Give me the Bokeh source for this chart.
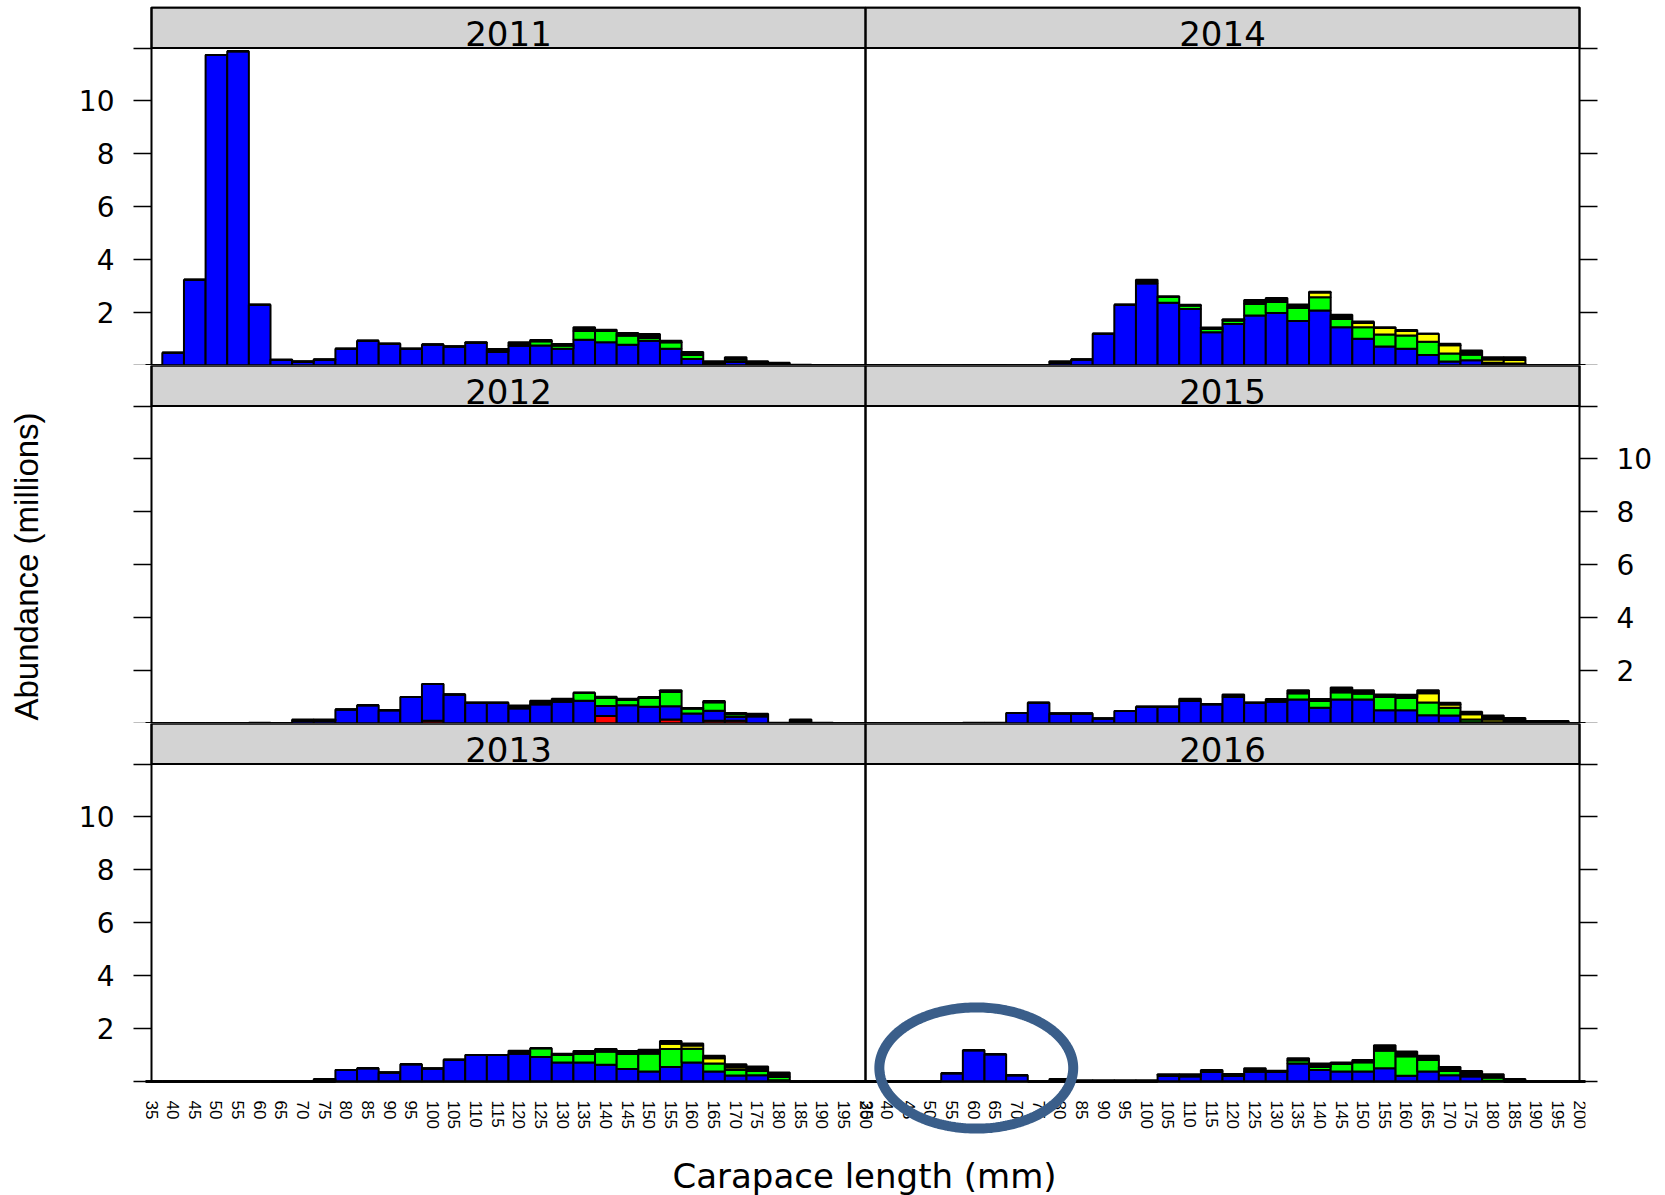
import numpy as np
from bokeh.plotting import figure
from bokeh.models import (ColumnDataSource, LinearAxis, FixedTicker,
                          BoxAnnotation, Label, PolyAnnotation)
from bokeh.layouts import row, column
from bokeh.embed import file_html
from bokeh.resources import INLINE

# Carapace length classes (mm)
LENGTH_BINS = [35, 40, 45, 50, 55, 60, 65, 70, 75, 80,
               85, 90, 95, 100, 105, 110, 115, 120, 125, 130,
               135, 140, 145, 150, 155, 160, 165, 170, 175, 180,
               185, 190, 195, 200]

Y_TICKS = [0, 2, 4, 6, 8, 10, 12]
Y_TICK_LABELS = ["", "2", "4", "6", "8", "10", ""]

# Abundance (millions) by length class, stacked: red, blue, green, yellow, black
RED_2011 = [0, 0, 0, 0, 0, 0, 0, 0, 0, 0,
            0, 0, 0, 0, 0, 0, 0, 0, 0, 0,
            0, 0, 0, 0, 0, 0, 0, 0, 0, 0,
            0, 0, 0, 0]
BLUE_2011 = [0, 0.48, 3.24, 11.74, 11.88, 2.30, 0.21, 0.14, 0.22, 0.63,
             0.94, 0.82, 0.63, 0.79, 0.72, 0.86, 0.52, 0.76, 0.76, 0.63,
             0.97, 0.88, 0.78, 0.94, 0.63, 0.25, 0.03, 0.13, 0.03, 0,
             0, 0, 0, 0]
GREEN_2011 = [0, 0, 0, 0, 0, 0, 0, 0, 0, 0,
              0, 0, 0, 0, 0, 0, 0, 0, 0.16, 0.13,
              0.33, 0.42, 0.35, 0.10, 0.25, 0.16, 0, 0.10, 0, 0,
              0, 0, 0, 0]
YELLOW_2011 = [0, 0, 0, 0, 0, 0, 0, 0, 0, 0,
               0, 0, 0, 0, 0, 0, 0, 0, 0, 0,
               0, 0, 0, 0, 0, 0, 0, 0, 0, 0,
               0, 0, 0, 0]
BLACK_2011 = [0, 0, 0, 0, 0, 0, 0.02, 0.02, 0.02, 0,
              0, 0, 0, 0, 0, 0.02, 0.10, 0.12, 0.04, 0.05,
              0.15, 0.05, 0.10, 0.15, 0.06, 0.10, 0.13, 0.08, 0.13, 0.10,
              0.03, 0.02, 0, 0]

RED_2012 = [0, 0, 0, 0, 0, 0, 0, 0, 0, 0,
            0, 0, 0, 0.10, 0, 0, 0, 0, 0, 0,
            0, 0.28, 0, 0, 0.15, 0, 0.10, 0.10, 0, 0,
            0, 0, 0, 0]
BLUE_2012 = [0, 0, 0, 0, 0, 0, 0, 0.10, 0.10, 0.53,
             0.69, 0.50, 1.00, 1.39, 1.10, 0.78, 0.78, 0.58, 0.73, 0.83,
             0.86, 0.38, 0.69, 0.63, 0.50, 0.38, 0.38, 0.15, 0.27, 0,
             0, 0, 0, 0]
GREEN_2012 = [0, 0, 0, 0, 0, 0, 0, 0, 0, 0,
              0, 0, 0, 0, 0, 0, 0, 0, 0, 0,
              0.30, 0.31, 0.20, 0.34, 0.55, 0.19, 0.32, 0.10, 0, 0,
              0, 0, 0, 0]
YELLOW_2012 = [0, 0, 0, 0, 0, 0, 0, 0, 0, 0,
               0, 0, 0, 0, 0, 0, 0, 0, 0, 0,
               0, 0, 0, 0, 0, 0, 0, 0, 0, 0,
               0, 0, 0, 0]
BLACK_2012 = [0, 0, 0, 0, 0, 0.03, 0.02, 0.05, 0.05, 0,
              0, 0, 0, 0, 0, 0, 0, 0.10, 0.13, 0.11,
              0, 0.04, 0.05, 0.03, 0.06, 0.02, 0.05, 0.05, 0.10, 0.03,
              0.15, 0.03, 0, 0]

RED_2013 = [0, 0, 0, 0, 0, 0, 0, 0, 0, 0,
            0, 0, 0, 0, 0, 0, 0, 0, 0, 0,
            0, 0, 0, 0, 0, 0, 0, 0, 0, 0,
            0, 0, 0, 0]
BLUE_2013 = [0, 0, 0, 0, 0, 0, 0, 0, 0, 0.43,
             0.50, 0.34, 0.65, 0.49, 0.82, 1.00, 1.00, 1.06, 0.93, 0.72,
             0.72, 0.63, 0.47, 0.38, 0.55, 0.72, 0.38, 0.23, 0.24, 0.05,
             0, 0, 0, 0]
GREEN_2013 = [0, 0, 0, 0, 0, 0, 0, 0, 0, 0,
              0, 0, 0, 0, 0, 0, 0, 0, 0.33, 0.28,
              0.33, 0.50, 0.58, 0.68, 0.68, 0.52, 0.30, 0.20, 0.17, 0.12,
              0, 0, 0, 0]
YELLOW_2013 = [0, 0, 0, 0, 0, 0, 0, 0, 0, 0,
               0, 0, 0, 0, 0, 0, 0, 0, 0, 0,
               0, 0, 0, 0, 0.20, 0.12, 0.20, 0.10, 0, 0,
               0, 0, 0, 0]
BLACK_2013 = [0, 0, 0, 0, 0, 0, 0, 0, 0.09, 0,
              0, 0, 0, 0, 0, 0, 0, 0.10, 0, 0.05,
              0.10, 0.10, 0.10, 0.14, 0.10, 0.08, 0.09, 0.12, 0.16, 0.17,
              0, 0, 0, 0]

RED_2014 = [0, 0, 0, 0, 0, 0, 0, 0, 0, 0,
            0, 0, 0, 0, 0, 0, 0, 0, 0, 0,
            0, 0, 0, 0, 0, 0, 0, 0, 0, 0,
            0, 0, 0, 0]
BLUE_2014 = [0, 0, 0, 0, 0, 0, 0, 0, 0, 0.10,
             0.23, 1.20, 2.30, 3.11, 2.37, 2.14, 1.26, 1.57, 1.89, 1.98,
             1.68, 2.08, 1.45, 1.01, 0.72, 0.63, 0.40, 0.15, 0.20, 0.05,
             0.03, 0, 0, 0]
GREEN_2014 = [0, 0, 0, 0, 0, 0, 0, 0, 0, 0,
              0, 0, 0, 0, 0.22, 0.13, 0.13, 0.13, 0.44, 0.42,
              0.50, 0.50, 0.31, 0.44, 0.45, 0.50, 0.50, 0.30, 0.22, 0.05,
              0.05, 0, 0, 0]
YELLOW_2014 = [0, 0, 0, 0, 0, 0, 0, 0, 0, 0,
               0, 0, 0, 0, 0, 0, 0, 0, 0, 0,
               0, 0.18, 0, 0.16, 0.25, 0.17, 0.30, 0.32, 0, 0.13,
               0.13, 0, 0, 0]
BLACK_2014 = [0, 0.02, 0, 0.02, 0, 0.02, 0.02, 0, 0, 0.06,
              0, 0, 0, 0.13, 0.03, 0.03, 0.05, 0.05, 0.15, 0.15,
              0.13, 0.03, 0.16, 0.05, 0.03, 0.04, 0, 0.05, 0.15, 0.08,
              0.10, 0, 0, 0]

RED_2015 = [0, 0, 0, 0, 0, 0, 0, 0, 0, 0,
            0, 0, 0, 0, 0, 0, 0, 0, 0, 0,
            0, 0, 0, 0, 0, 0, 0, 0, 0, 0,
            0, 0, 0, 0]
BLUE_2015 = [0, 0, 0, 0, 0, 0, 0, 0.40, 0.78, 0.38,
             0.38, 0.19, 0.47, 0.63, 0.63, 0.85, 0.73, 1.00, 0.78, 0.83,
             0.91, 0.60, 0.91, 0.91, 0.50, 0.50, 0.31, 0.30, 0.05, 0.02,
             0, 0, 0, 0]
GREEN_2015 = [0, 0, 0, 0, 0, 0, 0, 0, 0, 0,
              0, 0, 0, 0, 0, 0, 0, 0, 0, 0,
              0.23, 0.25, 0.27, 0.22, 0.50, 0.47, 0.48, 0.30, 0.10, 0.03,
              0, 0, 0, 0]
YELLOW_2015 = [0, 0, 0, 0, 0, 0, 0, 0, 0, 0,
               0, 0, 0, 0, 0, 0, 0, 0, 0, 0,
               0, 0, 0, 0, 0, 0, 0.35, 0.12, 0.20, 0.10,
               0, 0, 0, 0]
BLACK_2015 = [0, 0, 0, 0, 0, 0.03, 0.03, 0, 0, 0,
              0, 0, 0, 0, 0, 0.09, 0, 0.10, 0, 0.10,
              0.12, 0.08, 0.18, 0.13, 0.10, 0.12, 0.12, 0.06, 0.09, 0.15,
              0.21, 0.09, 0.09, 0]

RED_2016 = [0, 0, 0, 0, 0, 0, 0, 0, 0, 0,
            0, 0, 0, 0, 0, 0, 0, 0, 0, 0,
            0, 0, 0, 0, 0, 0, 0, 0, 0, 0,
            0, 0, 0, 0]
BLUE_2016 = [0, 0, 0, 0, 0.31, 1.18, 1.03, 0.24, 0, 0,
             0, 0, 0, 0, 0.22, 0.20, 0.37, 0.22, 0.38, 0.37,
             0.68, 0.43, 0.38, 0.38, 0.50, 0.22, 0.38, 0.24, 0.20, 0.03,
             0, 0, 0, 0]
GREEN_2016 = [0, 0, 0, 0, 0, 0, 0, 0, 0, 0,
              0, 0, 0, 0, 0, 0, 0, 0, 0, 0,
              0.12, 0.12, 0.28, 0.35, 0.67, 0.73, 0.43, 0.17, 0, 0.12,
              0, 0, 0, 0]
YELLOW_2016 = [0, 0, 0, 0, 0, 0, 0, 0, 0, 0,
               0, 0, 0, 0, 0, 0, 0, 0, 0, 0,
               0, 0, 0, 0, 0, 0, 0, 0, 0, 0,
               0, 0, 0, 0]
BLACK_2016 = [0, 0, 0, 0, 0, 0, 0, 0, 0, 0.09,
              0.05, 0.05, 0.05, 0.05, 0.05, 0.07, 0.06, 0.06, 0.12, 0.04,
              0.08, 0.13, 0.06, 0.08, 0.20, 0.18, 0.16, 0.14, 0.20, 0.12,
              0.09, 0, 0, 0]

YEARS = {
    "2011": (RED_2011, BLUE_2011, GREEN_2011, YELLOW_2011, BLACK_2011),
    "2012": (RED_2012, BLUE_2012, GREEN_2012, YELLOW_2012, BLACK_2012),
    "2013": (RED_2013, BLUE_2013, GREEN_2013, YELLOW_2013, BLACK_2013),
    "2014": (RED_2014, BLUE_2014, GREEN_2014, YELLOW_2014, BLACK_2014),
    "2015": (RED_2015, BLUE_2015, GREEN_2015, YELLOW_2015, BLACK_2015),
    "2016": (RED_2016, BLUE_2016, GREEN_2016, YELLOW_2016, BLACK_2016),
}
# panel rows: (left column year, right column year)
PANEL_ROWS = [("2011", "2014"), ("2012", "2015"), ("2013", "2016")]

STACK_KEYS = ["red", "blue", "green", "yellow", "black"]
STACK_COLORS = ["#ff0000", "#0000ff", "#00ff00", "#ffff00", "#000000"]

# ---- geometry ----
X_MIN, X_MAX = LENGTH_BINS[0], LENGTH_BINS[-1]
SPAN = X_MAX - X_MIN                 # one panel width in mm
OFFSET = SPAN                        # right-hand column is drawn shifted by one panel
PANEL_W = 714                        # pixels per panel
PX_X = PANEL_W / SPAN
PAD_PX = 6                           # frame padding so borders and edge labels are not clipped
PAD = PAD_PX / PX_X
FRAME_W = 2 * PANEL_W + 2 * PAD_PX

STRIP_PLUS_PANEL = 358
PANEL_H = 317.5
Y_MAX = 12
PX_Y = PANEL_H / Y_MAX
Y_TOP = STRIP_PLUS_PANEL / PX_Y      # data units including the strip
TOP_PAD_PX = 1
LABEL_ZONE_PX = 60                   # room for the length labels under the bottom row

YTITLE_W = 50
LEFT_MARGIN = 101 - PAD_PX
RIGHT_MARGIN = 86 - PAD_PX
TOP_MARGIN = 7 - TOP_PAD_PX
XTITLE_H = 54

TICK_FONT = "DejaVu Sans"
EDGE_W = 2


def y_axis(show_labels):
    ax = LinearAxis(ticker=FixedTicker(ticks=Y_TICKS))
    if show_labels:
        ax.major_label_overrides = {t: lab for t, lab in zip(Y_TICKS, Y_TICK_LABELS)}
    else:
        ax.major_label_overrides = {t: "" for t in Y_TICKS}
    ax.major_tick_out = 18 - PAD_PX
    ax.major_tick_in = PAD_PX
    ax.minor_tick_out = 0
    ax.minor_tick_in = 0
    ax.major_tick_line_width = 1.5
    ax.major_tick_line_color = "black"
    ax.axis_line_color = None
    ax.major_label_standoff = 19
    ax.major_label_text_font = TICK_FONT
    ax.major_label_text_font_size = "28px"
    ax.major_label_text_color = "black"
    return ax


def x_axis():
    ticks, overrides = [], {}
    for v in LENGTH_BINS:
        ticks.append(float(v))
        overrides[float(v)] = str(v)
    for v in LENGTH_BINS:
        t = float(v + OFFSET)
        if t in overrides:           # shared edge between the two columns
            t += 0.25
        ticks.append(t)
        overrides[t] = str(v)
    ax = LinearAxis(ticker=FixedTicker(ticks=ticks), fixed_location=0,
                    major_label_orientation="vertical",
                    major_label_text_font="Liberation Sans",
                    major_label_text_font_size="17px",
                    major_label_text_color="black")
    ax.major_label_overrides = overrides
    ax.major_tick_out = 0
    ax.major_tick_in = 0
    ax.minor_tick_out = 0
    ax.minor_tick_in = 0
    ax.axis_line_color = None
    ax.major_label_standoff = 19
    return ax


def panel_row(rownum):
    first, last = rownum == 0, rownum == len(PANEL_ROWS) - 1
    y_lo = -LABEL_ZONE_PX / PX_Y if last else 0
    y_hi = Y_TOP + (TOP_PAD_PX / PX_Y if first else 0)
    frame_h = STRIP_PLUS_PANEL + (TOP_PAD_PX if first else 0) + (LABEL_ZONE_PX if last else 0)

    p = figure(frame_width=FRAME_W, frame_height=int(round(frame_h)),
               x_range=(X_MIN - PAD, X_MAX + OFFSET + PAD), y_range=(y_lo, y_hi),
               output_backend="svg", toolbar_location=None,
               x_axis_location=None, y_axis_location=None,
               min_border_left=LEFT_MARGIN, min_border_right=RIGHT_MARGIN,
               min_border_top=TOP_MARGIN if first else 0, min_border_bottom=0)
    p.xgrid.visible = False
    p.ygrid.visible = False
    p.background_fill_color = "white"
    p.border_fill_color = "white"
    p.outline_line_color = None

    # strip band with its border
    p.add_layout(BoxAnnotation(left=X_MIN, right=X_MAX + OFFSET, bottom=Y_MAX, top=Y_TOP,
                               fill_color="#d3d3d3", fill_alpha=1,
                               line_color="black", line_alpha=1, line_width=EDGE_W,
                               level="underlay"))

    for col, year in enumerate(PANEL_ROWS[rownum]):
        shift = col * OFFSET
        red, blue, green, yellow, black = YEARS[year]
        src = ColumnDataSource(dict(length=[v + shift for v in LENGTH_BINS],
                                    red=red, blue=blue, green=green,
                                    yellow=yellow, black=black))
        p.vbar_stack(STACK_KEYS, x="length", width=5, source=src,
                     fill_color=STACK_COLORS, line_color="black", line_width=EDGE_W)
        # panel border (strip + plotting region)
        p.add_layout(BoxAnnotation(left=X_MIN + shift, right=X_MAX + shift,
                                   bottom=0, top=Y_TOP, fill_color=None, fill_alpha=0,
                                   line_color="black", line_alpha=1, line_width=EDGE_W))
        p.add_layout(Label(x=(X_MIN + X_MAX) / 2 + shift, y=Y_MAX + 15 / PX_Y,
                           text=year, text_align="center", text_baseline="middle",
                           text_font=TICK_FONT, text_font_size="34px",
                           text_color="black"))

    # value labels alternate between the outer sides
    p.add_layout(y_axis(rownum != 1), "left")
    p.add_layout(y_axis(rownum == 1), "right")
    if last:
        p.add_layout(x_axis(), "below")
    return p


rows = [panel_row(i) for i in range(len(PANEL_ROWS))]

# ring around the small-size mode in the 2016 panel
cx, cy, rx, ry = 60.6 + OFFSET, 0.51, 22.4, 2.29
theta = np.linspace(0, 2 * np.pi, 240)
rows[2].add_layout(PolyAnnotation(xs=list(cx + rx * np.cos(theta)),
                                  ys=list(cy + ry * np.sin(theta)),
                                  xs_units="data", ys_units="data",
                                  fill_color=None, fill_alpha=0,
                                  line_color="#3a5e8a", line_alpha=1, line_width=10,
                                  level="overlay"))

GRID_H = TOP_MARGIN + 3 * STRIP_PLUS_PANEL + TOP_PAD_PX + LABEL_ZONE_PX

# y axis title
yt = figure(frame_width=YTITLE_W, frame_height=GRID_H, x_range=(0, 1), y_range=(0, GRID_H),
            output_backend="svg", toolbar_location=None,
            x_axis_location=None, y_axis_location=None, min_border=0)
yt.xgrid.visible = False
yt.ygrid.visible = False
yt.outline_line_color = None
yt.add_layout(Label(x=0.52, y=GRID_H - 566, text="Abundance (millions)",
                    angle=np.pi / 2, text_align="center", text_baseline="middle",
                    text_font="Liberation Sans", text_font_size="33px",
                    text_color="black"))

# x axis title
TOTAL_W = YTITLE_W + LEFT_MARGIN + FRAME_W + RIGHT_MARGIN
xt = figure(frame_width=TOTAL_W, frame_height=XTITLE_H, x_range=(0, TOTAL_W),
            y_range=(0, XTITLE_H), output_backend="svg", toolbar_location=None,
            x_axis_location=None, y_axis_location=None, min_border=0)
xt.xgrid.visible = False
xt.ygrid.visible = False
xt.outline_line_color = None
xt.add_layout(Label(x=864, y=XTITLE_H - 34, text="Carapace length (mm)",
                    text_align="center", text_baseline="middle",
                    text_font="DejaVu Sans", text_font_size="34px",
                    text_color="black"))

layout = column(row(yt, column(*rows)), xt)

open("out.html", "w").write(file_html(layout, INLINE))
